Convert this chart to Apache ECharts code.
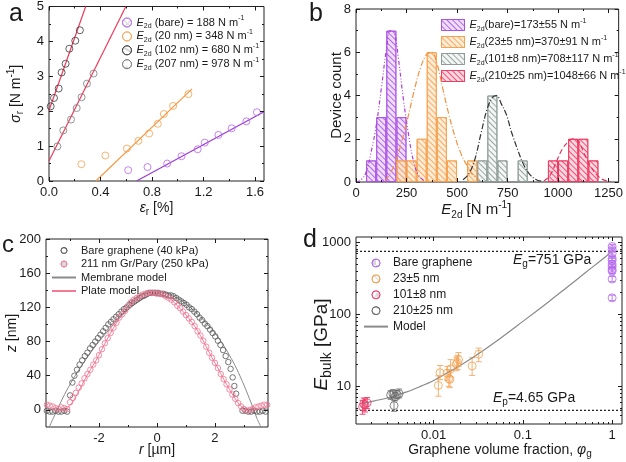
<!DOCTYPE html>
<html><head><meta charset="utf-8">
<script src="https://cdn.jsdelivr.net/npm/echarts@6/dist/echarts.min.js"></script>
<style>html,body{margin:0;padding:0;background:#fff}#c{width:626px;height:462px}</style>
</head><body><div id="c"></div>
<script>
// ---------------- Panel a data ----------------
const aBareX = [0.615,0.765,0.918,1.029,1.155,1.21,1.316,1.419,1.533,1.615];
const aBareY = [0.31,0.40,0.50,0.71,0.91,1.10,1.32,1.51,1.71,1.97];
const a20X = [0.251,0.437,0.605,0.695,0.778,0.845,0.892,0.964,1.083];
const a20Y = [0.48,0.73,0.93,1.15,1.36,1.64,1.92,2.15,2.49];
const a102X = [0.013,0.039,0.075,0.098,0.129,0.158,0.204,0.24];
const a102Y = [2.14,2.38,2.65,3.11,3.36,3.79,4.02,4.32];
const a207X = [0.065,0.111,0.171,0.215,0.253,0.295,0.346];
const a207Y = [0.99,1.45,1.76,2.09,2.40,2.79,3.08];
const aFitBare = [[0.68,0],[1.67,1.985]];
const aFit20 = [[0.364,0],[1.111,2.64]];
const aFit102 = [[0,2.02],[0.285,5]];
const aFit207 = [[0,0.57],[0.597,5]];
const aXTicks = [0,0.4,0.8,1.2,1.6], aXMinor = [0.2,0.6,1.0,1.4];
const aYTicks = [0,1,2,3,4,5], aYMinor = [0.5,1.5,2.5,3.5,4.5];

// ---------------- Panel b data ----------------
const bBinStarts = [0,50,100,150,200,250,300,350,400,450,500,550,600,650,700,750,800,850,900,950,1000,1050,1100,1150,1200,1250];
const bBareBins = [50,100,150,200], bBareCounts = [1,3,7,3];
const b23Bins = [200,250,300,350,400,450,550], b23Counts = [1,1,2,6,3,1,1];
const b101Bins = [600,650,700,800], b101Counts = [1,4,1,1];
const b210Bins = [950,1000,1050,1100,1150], b210Counts = [1,1,2,2,1];
const bBareFitX = [0,25,50,75,100,125,150,170,190,210,235,260,285,310,340];
const bBareFitY = [0,0.1,0.45,1.4,2.6,4.3,6.1,7.0,6.9,5.7,3.8,2.2,0.95,0.3,0.05];
const b23FitX = [145,170,200,230,260,290,320,350,375,400,430,460,490,520,550,580,610];
const b23FitY = [0.05,0.4,1.05,2.0,3.1,4.3,5.3,5.9,6.0,5.5,4.3,3.1,2.1,1.3,0.75,0.3,0.08];
const b101FitX = [530,560,590,620,650,675,695,720,745,770,800,830,860,890,920];
const b101FitY = [0.1,0.4,1.1,2.3,3.4,3.9,4.0,3.6,3.1,2.3,1.5,0.8,0.35,0.12,0.03];
const b210FitX = [930,960,990,1020,1050,1075,1100,1130,1160,1190,1220,1260];
const b210FitY = [0.05,0.3,0.9,1.5,1.85,2.0,1.9,1.3,0.75,0.35,0.12,0.02];
const bXTicks = [0,250,500,750,1000,1250], bXMinor = [125,375,625,875,1125];
const bYTicks = [0,2,4,6,8], bYMinor = [1,3,5,7];

// ---------------- Panel c data ----------------
const cBareR = [-3.80,-3.70,-3.60,-3.50,-3.40,-3.30,-3.20,-3.10,-3.00,-2.92,-2.85,-2.76,-2.67,-2.58,-2.49,-2.40,-2.31,-2.22,-2.13,-2.04,-1.95,-1.86,-1.77,-1.68,-1.59,-1.50,-1.41,-1.32,-1.23,-1.14,-1.05,-0.96,-0.87,-0.78,-0.69,-0.60,-0.51,-0.42,-0.33,-0.24,-0.15,-0.06,0.03,0.12,0.21,0.30,0.39,0.48,0.57,0.66,0.75,0.84,0.93,1.02,1.11,1.20,1.29,1.38,1.47,1.56,1.65,1.74,1.83,1.92,2.01,2.10,2.19,2.28,2.37,2.46,2.54,2.61,2.67,2.73,2.95,3.05,3.15,3.25,3.35,3.45,3.55,3.65,3.75];
const cBareZ = [-1,-2,-2,-1,-2,-2,-1,-2,17,32,40,47,53,58,63,67,72,76,80,84,88,92,96,100,103,106,109,112,115,118,120,123,125,127,129,131,133,134,136,137,137,137,137,136,136,135,134,134,133,131,129,127,125,123,120,118,115,112,108,105,101,98,94,90,86,81,76,70,63,56,48,38,28,19,-1,-1,-2,-2,-1,-2,-2,-1,-2];
const cGrR = [-3.8,-3.7,-3.6,-3.5,-3.4,-3.3,-3.2,-3.1,-3.0,-2.9,-2.8,-2.7,-2.6,-2.5,-2.4,-2.3,-2.2,-2.1,-2.0,-1.9,-1.8,-1.7,-1.6,-1.5,-1.4,-1.3,-1.2,-1.1,-1.0,-0.9,-0.8,-0.7,-0.6,-0.5,-0.4,-0.3,-0.2,-0.1,0,0.1,0.2,0.3,0.4,0.5,0.6,0.7,0.8,0.9,1.0,1.1,1.2,1.3,1.4,1.5,1.6,1.7,1.8,1.9,2.0,2.1,2.2,2.3,2.4,2.5,2.6,2.7,2.8,2.9,3.0,3.1,3.2,3.3,3.4,3.5,3.6,3.7,3.8];
const cGrZ = [6,5,4,2,1,3,2,1,9,14,20,26,31,37,42,47,53,58,64,71,78,84,90,96,102,108,112,116,121,126,129,131,133,135,136,137,137,137,136,136,135,133,131,129,126,122,119,115,111,107,103,98,92,87,81,74,67,61,55,49,42,36,30,24,18,13,8,4,1,-1,0,1,3,4,5,6,6];
const cMemR = [-3.72,-3.5,-3.25,-3.0,-2.75,-2.5,-2.25,-2.0,-1.75,-1.5,-1.25,-1.0,-0.75,-0.5,-0.25,0,0.25,0.5,0.75,1.0,1.25,1.5,1.75,2.0,2.25,2.5,2.75,3.0,3.25,3.45,3.6];
const cMemZ = [-20,-4,14,30,44,57,69,80,90,100,109,117,124,130,134,137,137,134,130,124,117,109,100,90,78,64,48,29,8,-10,-21];
const cPlateR = [-3.3,-3.1,-2.9,-2.7,-2.5,-2.3,-2.1,-1.9,-1.7,-1.5,-1.3,-1.1,-0.9,-0.7,-0.5,-0.3,-0.1,0.1,0.3,0.5,0.7,0.9,1.1,1.3,1.5,1.7,1.9,2.1,2.3,2.5,2.7,2.9,3.1];
const cPlateZ = [0,2,10,22,35,47,58,71,84,96,107,116,125,131,135,137,137,136,133,129,122,115,107,98,87,74,61,49,36,24,13,4,0];
const cXTicks = [-2,0,2], cXMinor = [-3,-1,1,3];
const cYTicks = [0,40,80,120,160,200], cYMinor = [20,60,100,140,180];

// ---------------- Panel d data ----------------
const dBareX = [1,1,1,1,1,1,1,1,1,1,1];
const dBareY = [880,800,700,600,560,500,460,420,400,310,170];
const dBareLo = [820,745,650,560,520,465,430,390,370,285,155];
const dBareHi = [940,855,750,640,600,535,490,450,430,335,185];
const d23X = [0.0113,0.0118,0.0142,0.0148,0.0152,0.0155,0.018,0.0185,0.019,0.027,0.032];
const d23Y = [10.3,15.5,15.3,12.9,12.5,17.5,20.5,21.5,23.5,19.2,28];
const d23Lo = [7.3,12.4,12.2,10.0,9.6,13.5,16.5,17.2,19.0,14.2,22];
const d23Hi = [14.0,19.5,19.0,17.0,16.5,23.5,25.5,27.0,29.5,25.0,34];
const d101X = [0.0016,0.00165,0.0017,0.0018];
const d101Y = [5.2,5.7,5.5,5.9];
const d101Lo = [4.1,4.6,4.4,4.9];
const d101Hi = [6.4,6.9,6.7,7.0];
const d210X = [0.0033,0.0035,0.0036,0.0037,0.0039,0.0041];
const d210Y = [7.6,7.9,5.4,7.2,7.7,7.9];
const d210Lo = [6.6,6.9,4.5,6.3,6.7,6.9];
const d210Hi = [8.7,9.0,6.3,8.2,8.8,9.2];
const dModelX = [0.0016,0.002,0.003,0.005,0.007,0.01,0.02,0.03,0.05,0.1,0.2,0.3,0.5,0.7,1];
const dModelY = [5.85,6.15,6.9,8.4,9.9,12.1,19.6,27,42,80,154,229,378,527,751];
const dEg = 751, dEp = 4.65;
const dXMin = 0.00135, dXMax = 1.29, dYMin = 3.0, dYMax = 1190;
const dXTicks = [0.01,0.1,1], dXMinor = [0.002,0.003,0.004,0.005,0.006,0.007,0.008,0.009,0.02,0.03,0.04,0.05,0.06,0.07,0.08,0.09,0.2,0.3,0.4,0.5,0.6,0.7,0.8,0.9];
const dYTicks = [10,100,1000], dYMinor = [4,5,6,7,8,9,20,30,40,50,60,70,80,90,200,300,400,500,600,700,800,900];

// ---------------- helpers ----------------
const FONT = '"Liberation Sans", Arial, Helvetica, sans-serif';
const INK = '#1a1a1a';
function rich(fs, lh, ratio) {
  const s = Math.round(fs * (ratio || 0.68));
  return {
    i: {fontStyle: 'italic', fontSize: fs, fontFamily: FONT, color: INK, lineHeight: lh},
    sub: {fontSize: s, fontFamily: FONT, color: INK, verticalAlign: 'bottom'},
    sup: {fontSize: s, fontFamily: FONT, color: INK, verticalAlign: 'top'},
    n: {fontSize: fs, fontFamily: FONT, color: INK, lineHeight: lh}
  };
}
const xAxes = [], yAxes = [];
function addAxes(list, o) {
  const pos = o.dim === 'x' ? ['bottom', 'top'] : ['left', 'right'];
  const base = {type: o.type || 'value', gridIndex: o.grid, min: o.min, max: o.max,
    axisLine: {show: false, onZero: false}, splitLine: {show: false}, z: 5};
  if (o.type === 'log') base.logBase = 10;
  const mainIdx = list.length;
  pos.forEach((p, k) => {
    const main = Object.assign({}, base, {
      position: p,
      axisTick: {show: true, inside: true, length: 4, customValues: o.majors, lineStyle: {color: INK, width: 1}},
      axisLabel: k === 0 ? {show: true, customValues: o.majors, formatter: o.fmt, fontSize: 13,
        fontFamily: FONT, color: INK, margin: o.margin || 5} : {show: false}
    });
    if (k === 0 && o.name) {
      const fs = o.nameSize || 14, lh = fs + 5;
      Object.assign(main, {name: o.name, nameLocation: 'middle', nameGap: o.nameGap, nameMoveOverlap: false,
        nameRotate: o.dim === 'y' ? 90 : 0,
        nameTextStyle: {fontSize: fs, fontFamily: FONT, color: INK, lineHeight: lh,
          padding: o.namePad || 0, rich: rich(fs, lh, o.subRatio)}});
    }
    list.push(main);
    list.push(Object.assign({}, base, {position: p,
      axisTick: {show: true, inside: true, length: 2, customValues: o.minors, lineStyle: {color: INK, width: 1}},
      axisLabel: {show: false}}));
  });
  return mainIdx;
}
const zip = (xs, ys) => xs.map((x, i) => [x, ys[i]]);

// Axes
const aX = addAxes(xAxes, {dim: 'x', grid: 0, min: 0, max: 1.67, majors: aXTicks, minors: aXMinor,
  fmt: v => v.toFixed(1), name: '{i|ε}{sub|r} [%]', nameGap: 17.5});
const aY = addAxes(yAxes, {dim: 'y', grid: 0, min: 0, max: 5, majors: aYTicks, minors: aYMinor,
  fmt: v => String(v), name: '{i|σ}{sub|r} [N m{sup|-1}]', nameGap: 23.5});
const bX = addAxes(xAxes, {dim: 'x', grid: 1, min: 0, max: 1300, majors: bXTicks, minors: bXMinor,
  fmt: v => String(v), name: '{i|E}{sub|2d} [N m{sup|-1}]', nameGap: 18, nameSize: 15, namePad: [0, 22, 0, 0]});
const bY = addAxes(yAxes, {dim: 'y', grid: 1, min: 0, max: 8, majors: bYTicks, minors: bYMinor,
  fmt: v => String(v), name: 'Device count', nameGap: 9, nameSize: 15});
const cX = addAxes(xAxes, {dim: 'x', grid: 2, min: -3.83, max: 3.83, majors: cXTicks, minors: cXMinor,
  fmt: v => String(v), name: '{i|r} [µm]', nameGap: 13.5});
const cY = addAxes(yAxes, {dim: 'y', grid: 2, min: -20, max: 200, majors: cYTicks, minors: cYMinor,
  fmt: v => String(v), name: '{i|z} [nm]', nameGap: 24.5});
const dX = addAxes(xAxes, {dim: 'x', grid: 3, type: 'log', min: dXMin, max: dXMax, majors: dXTicks, minors: dXMinor,
  fmt: v => String(v), name: 'Graphene volume fraction, {i|φ}{sub|g}', nameGap: 16.5, namePad: [0, 0, 0, 22]});
const dY = addAxes(yAxes, {dim: 'y', grid: 3, type: 'log', min: dYMin, max: dYMax, majors: dYTicks, minors: dYMinor,
  fmt: v => String(v), name: '{i|E}{sub|bulk} [GPa]', nameGap: 22, nameSize: 19, subRatio: 0.74, namePad: [0, 28, 0, 0]});
const bCat = xAxes.length;
xAxes.push({type: 'category', gridIndex: 1, data: bBinStarts.map(String), show: false, boundaryGap: true});

// Colours
const ORA = '#f5a04a', RED = '#ee3a5c', DK = '#3a3a3a', GR = '#7a7a7a';
const hollow = c => ({color: 'rgba(255,255,255,0)', borderColor: c, borderWidth: 1});

const series = [];
// ---- panel a ----
[[aFitBare, '#9a3ad6'], [aFit20, '#f59a45'], [aFit102, RED], [aFit207, RED]].forEach(([d, c]) => {
  series.push({type: 'line', xAxisIndex: aX, yAxisIndex: aY, data: d, symbol: 'none', silent: true,
    lineStyle: {color: c, width: 1.2}, z: 2});
});
[['aBare', aBareX, aBareY, '#b565f0'], ['a20', a20X, a20Y, ORA], ['a102', a102X, a102Y, DK], ['a207', a207X, a207Y, GR]]
  .forEach(([n, xs, ys, c]) => {
    series.push({type: 'scatter', name: n, xAxisIndex: aX, yAxisIndex: aY, data: zip(xs, ys),
      symbol: 'circle', symbolSize: 7, itemStyle: hollow(c), z: 3});
  });

// ---- panel b ----
function hatch(fill, line) {
  return {color: fill, borderColor: line, borderWidth: 1,
    decal: {symbol: 'rect', symbolSize: 1, color: line, dashArrayX: [1, 0], dashArrayY: [1, 3], rotation: Math.PI / 4}};
}
[['bBare', bBareBins, bBareCounts, hatch('rgba(230,208,250,0.7)', 'rgba(170,80,228,0.85)')],
 ['b23', b23Bins, b23Counts, hatch('rgba(255,230,200,0.7)', 'rgba(246,160,76,0.85)')],
 ['b101', b101Bins, b101Counts, hatch('rgba(238,242,240,0.7)', 'rgba(140,154,149,0.85)')],
 ['b210', b210Bins, b210Counts, hatch('rgba(252,200,212,0.7)', 'rgba(236,58,98,0.85)')]].forEach(([n, bins, cnt, st]) => {
  series.push({type: 'bar', name: n, xAxisIndex: bCat, yAxisIndex: bY,
    data: bins.map((b, i) => [bBinStarts.indexOf(b), cnt[i]]),
    barGap: '-100%', barCategoryGap: '0%', itemStyle: st, z: 2});
});
[[bBareFitX, bBareFitY, '#b040d8', [4, 2, 1, 2, 1, 2]], [b23FitX, b23FitY, '#f59040', [6, 2, 1, 2]],
 [b101FitX, b101FitY, '#333', [6, 2, 1, 2]], [b210FitX, b210FitY, '#e8305c', [5, 3]]].forEach(([xs, ys, c, t]) => {
  series.push({type: 'line', xAxisIndex: bX, yAxisIndex: bY, data: zip(xs, ys), symbol: 'none', smooth: 0.4,
    silent: true, lineStyle: {color: c, width: 1.2, type: t}, z: 4});
});

// ---- panel c ----
series.push({type: 'line', name: 'cMem', xAxisIndex: cX, yAxisIndex: cY, data: zip(cMemR, cMemZ), symbol: 'none',
  smooth: 0.3, lineStyle: {color: '#8a8a8a', width: 1}, itemStyle: {color: '#8a8a8a'}, z: 2});
series.push({type: 'line', name: 'cPlate', xAxisIndex: cX, yAxisIndex: cY, data: zip(cPlateR, cPlateZ), symbol: 'none',
  smooth: 0.3, lineStyle: {color: '#f27a95', width: 1}, itemStyle: {color: '#f27a95'}, z: 2});
series.push({type: 'scatter', name: 'cBare', xAxisIndex: cX, yAxisIndex: cY, data: zip(cBareR, cBareZ),
  symbol: 'circle', symbolSize: 5.5, itemStyle: hollow('#555'), z: 3});
series.push({type: 'scatter', name: 'cGr', xAxisIndex: cX, yAxisIndex: cY, data: zip(cGrR, cGrZ),
  symbol: 'circle', symbolSize: 5.5, itemStyle: hollow('#f2708e'), z: 3});

// ---- panel d ----
function errBars(xs, lo, hi, c) {
  return {type: 'custom', xAxisIndex: dX, yAxisIndex: dY, silent: true, z: 2,
    data: xs.map((x, i) => [x, lo[i], hi[i]]), encode: {x: 0, y: [1, 2]},
    renderItem: (p, api) => {
      const a = api.coord([api.value(0), api.value(1)]), b = api.coord([api.value(0), api.value(2)]);
      const w = 3, st = {stroke: c, lineWidth: 1};
      return {type: 'group', children: [
        {type: 'line', shape: {x1: a[0], y1: a[1], x2: b[0], y2: b[1]}, style: st},
        {type: 'line', shape: {x1: a[0] - w, y1: a[1], x2: a[0] + w, y2: a[1]}, style: st},
        {type: 'line', shape: {x1: b[0] - w, y1: b[1], x2: b[0] + w, y2: b[1]}, style: st}]};
    }};
}
series.push({type: 'line', xAxisIndex: dX, yAxisIndex: dY, data: [[dXMin, dEg], [dXMax, dEg]], symbol: 'none', silent: true,
  lineStyle: {color: '#222', width: 1.2, type: [2, 2]}, z: 1});
series.push({type: 'line', xAxisIndex: dX, yAxisIndex: dY, data: [[dXMin, dEp], [dXMax, dEp]], symbol: 'none', silent: true,
  lineStyle: {color: '#222', width: 1.2, type: [2, 2]}, z: 1});
series.push({type: 'line', name: 'dModel', xAxisIndex: dX, yAxisIndex: dY, data: zip(dModelX, dModelY), symbol: 'none',
  smooth: 0.3, lineStyle: {color: '#8a8a8a', width: 1.2}, itemStyle: {color: '#8a8a8a'}, z: 2});
series.push(errBars(dBareX, dBareLo, dBareHi, '#b878ea'));
series.push(errBars(d23X, d23Lo, d23Hi, '#f7b070'));
series.push(errBars(d101X, d101Lo, d101Hi, '#ee4a70'));
series.push(errBars(d210X, d210Lo, d210Hi, '#888'));
[['dBare', dBareX, dBareY, '#b565f0'], ['d23', d23X, d23Y, ORA], ['d101', d101X, d101Y, '#ee3a6a'], ['d210', d210X, d210Y, '#666']]
  .forEach(([n, xs, ys, c]) => {
    series.push({type: 'scatter', name: n, xAxisIndex: dX, yAxisIndex: dY, data: zip(xs, ys),
      symbol: 'circle', symbolSize: 8, itemStyle: hollow(c), z: 3});
  });

// Legends
const LABELS = {
  aBare: '{i|E}{sub|2d} (bare) = 188 N m{sup|-1}',
  a20: '{i|E}{sub|2d} (20 nm) = 348 N m{sup|-1}',
  a102: '{i|E}{sub|2d} (102 nm) = 680 N m{sup|-1}',
  a207: '{i|E}{sub|2d} (207 nm) = 978 N m{sup|-1}',
  bBare: '{i|E}{sub|2d}(bare)=173±55 N m{sup|-1}',
  b23: '{i|E}{sub|2d}(23±5 nm)=370±91 N m{sup|-1}',
  b101: '{i|E}{sub|2d}(101±8 nm)=708±117 N m{sup|-1}',
  b210: '{i|E}{sub|2d}(210±25 nm)=1048±66 N m{sup|-1}',
  cBare: 'Bare graphene (40 kPa)', cGr: '211 nm Gr/Pary (250 kPa)', cMem: 'Membrane model', cPlate: 'Plate model',
  dBare: 'Bare graphene', d23: '23±5 nm', d101: '101±8 nm', d210: '210±25 nm', dModel: 'Model'
};
function legend(data, left, top, fs, lh, gap, iw, ih, extra) {
  return Object.assign({data: data, left: left, top: top, orient: 'vertical', selectedMode: false,
    itemWidth: iw, itemHeight: ih, itemGap: gap, padding: 0,
    itemStyle: {borderWidth: 1},
    formatter: n => LABELS[n],
    textStyle: {fontSize: fs, fontFamily: FONT, color: INK, lineHeight: lh, rich: rich(fs, lh)}}, extra || {});
}
const noSym = n => ({name: n, itemStyle: {opacity: 0}});

const option = {
  animation: false,
  backgroundColor: '#fff',
  aria: {enabled: true, decal: {show: true}},
  grid: [
    {left: 49, top: 6, width: 215, height: 175},
    {left: 356, top: 9, width: 266, height: 173},
    {left: 46, top: 239, width: 222, height: 188},
    {left: 356, top: 237, width: 266, height: 187}
  ].map(g => Object.assign(g, {show: true, borderColor: '#222', borderWidth: 1, backgroundColor: 'transparent', containLabel: false})),
  xAxis: xAxes,
  yAxis: yAxes,
  legend: [
    legend(['aBare', 'a20', 'a102', 'a207'], 122, 15, 11, 15, -1.1, 9, 9),
    legend(['bBare', 'b23', 'b101', 'b210'], 441, 17.5, 11, 15, 2, 23, 11, {icon: 'rect'}),
    legend(['cBare', 'cGr', noSym('cMem'), noSym('cPlate')], 51, 244, 11, 13, 0.5, 24, 6),
    legend(['dBare', 'd23', 'd101', 'd210', noSym('dModel')], 363, 256, 12, 14, 1.9, 24, 8)
  ],
  graphic: [
    {type: 'text', x: 9, y: 14, style: {text: 'a', font: '25px ' + FONT, fill: INK, verticalAlign: 'middle'}},
    {type: 'text', x: 309, y: 14, style: {text: 'b', font: '25px ' + FONT, fill: INK, verticalAlign: 'middle'}},
    {type: 'text', x: 2, y: 245, style: {text: 'c', font: '24px ' + FONT, fill: INK, verticalAlign: 'middle'}},
    {type: 'text', x: 303, y: 240, style: {text: 'd', font: '25px ' + FONT, fill: INK, verticalAlign: 'middle'}},
    {type: 'text', x: 513, y: 260, style: {text: '{i|E}{sub|g}{n|=751 GPa}', rich: rich(14, 18), verticalAlign: 'middle', font: '14px ' + FONT, fill: INK}},
    {type: 'text', x: 493, y: 398, style: {text: '{i|E}{sub|p}{n|=4.65 GPa}', rich: rich(14, 18), verticalAlign: 'middle', font: '14px ' + FONT, fill: INK}}
  ],
  series: series
};
const chart = echarts.init(document.getElementById('c'), null, {renderer: 'canvas'});
chart.setOption(option);
</script></body></html>
